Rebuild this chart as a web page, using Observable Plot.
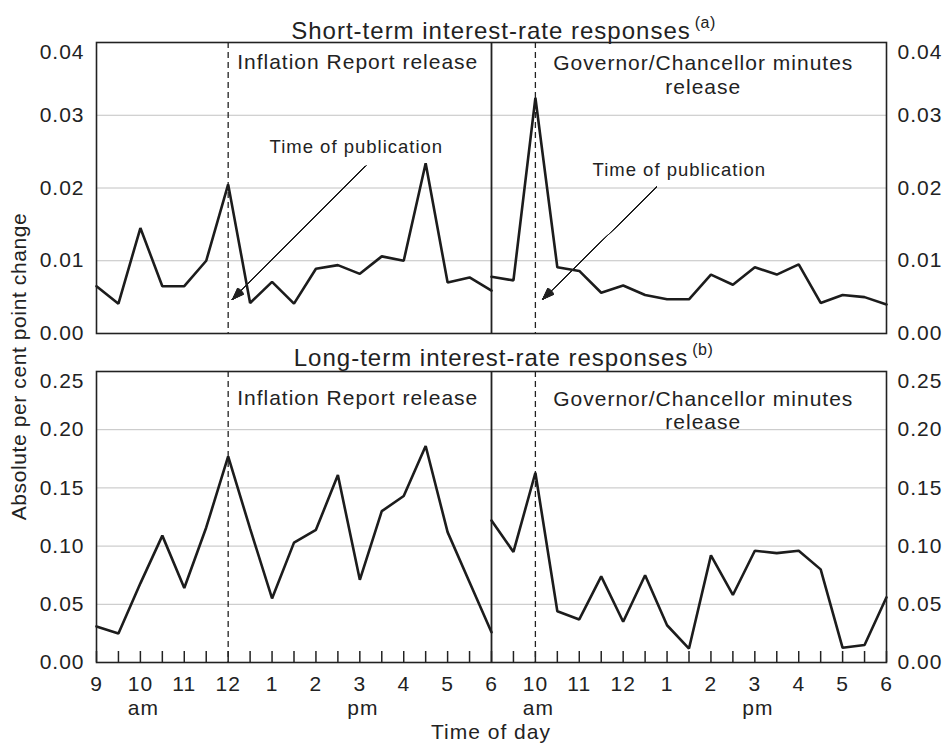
<!DOCTYPE html>
<html><head><meta charset="utf-8">
<script src="https://cdn.jsdelivr.net/npm/d3@7"></script>
<script src="https://cdn.jsdelivr.net/npm/@observablehq/plot@0.6"></script>
<style>
html,body{margin:0;padding:0;background:#fff;}
#wrap{position:relative;width:944px;height:743px;font-family:"Liberation Sans",Arial,sans-serif;color:#222;overflow:hidden;}
#wrap > svg{position:absolute;left:0;}
.title{position:absolute;left:491px;transform:translateX(-50%);font-size:24px;line-height:24px;letter-spacing:1px;white-space:nowrap;color:#222;}
.title .sup{position:absolute;left:100%;margin-left:4px;top:-4px;font-size:16px;line-height:16px;letter-spacing:0.5px;}
</style></head>
<body><div id="wrap"></div>
<script>
// ---- data ----
const slots = ["09:00","09:30","10:00","10:30","11:00","11:30","12:00","12:30","13:00","13:30","14:00","14:30","15:00","15:30","16:00","16:30","17:00","17:30","18:00"];
const shortInflationReport = [0.0065,0.0041,0.0145,0.0065,0.0065,0.0100,0.0205,0.0042,0.0071,0.0041,0.0089,0.0094,0.0082,0.0106,0.0100,0.0234,0.0070,0.0077,0.0059];
const shortMinutes = [0.0078,0.0073,0.0324,0.0091,0.0086,0.0056,0.0066,0.0053,0.0047,0.0047,0.0081,0.0067,0.0091,0.0081,0.0095,0.0042,0.0053,0.0050,0.0040];
const longInflationReport = [0.031,0.025,0.068,0.109,0.064,0.116,0.177,0.115,0.055,0.103,0.114,0.161,0.071,0.130,0.143,0.186,0.112,0.069,0.026];
const longMinutes = [0.122,0.095,0.163,0.044,0.037,0.074,0.035,0.075,0.032,0.012,0.092,0.058,0.096,0.094,0.096,0.080,0.0126,0.015,0.056];
const shortTicks = [0, 0.01, 0.02, 0.03, 0.04];
const longTicks = [0, 0.05, 0.10, 0.15, 0.20, 0.25];
const hourLabels = ["9","10","11","12","1","2","3","4","5","6"];
const ampm = [{slot:"10:00", half:0, text:"am"},{slot:"15:00", half:0, text:"pm"},{slot:"10:00", half:1, text:"am"},{slot:"15:00", half:1, text:"pm"}];
const releaseNames = ["Inflation Report release", "Governor/Chancellor minutes\nrelease"];
const publicationTimes = ["12:00", "10:00"];
const noteText = "Time of publication";
const noteAnchors = [{x: 11.84, y: 0.0256}, {x: 26.56, y: 0.02245}];
const noteArrows = [{x1: 12.26, y1: 0.0230, x2: 6.2, y2: 0.0047}, {x1: 25.52, y1: 0.0201, x2: 20.33, y2: 0.0047}];
const titles = [["Short-term interest-rate responses", "(a)"], ["Long-term interest-rate responses", "(b)"]];
const yLabel = "Absolute per cent point change";
const xLabel = "Time of day";

// ---- helpers ----
const N = slots.length - 1; // 18 half-hours per half
const fmt = d3.format(".2f");
const sx = (slot, half) => slots.indexOf(slot) + half * N;
const ink = "#222";
const allHalfHours = d3.range(0, 2 * N + 1);

function panel({left, right, ticks, height, marginTop, marginBottom, bottomAxis, labelDy, notes}) {
  const yMax = ticks[ticks.length - 1];
  const plotH = height - marginTop - marginBottom;
  const leftData = left.map((v, i) => ({x: i, y: v}));
  const rightData = right.map((v, i) => ({x: N + i, y: v}));
  const pubX = publicationTimes.map((s, h) => sx(s, h));
  const yAxisOpts = {tickSize: 0, tickFormat: fmt, fontSize: 21, label: null};
  const marks = [
    Plot.ruleY(ticks.slice(1, -1), {stroke: "#c2c2c2", strokeWidth: 1}),
    Plot.ruleX(pubX, {stroke: ink, strokeWidth: 1.3, strokeDasharray: "6,4"}),
    Plot.ruleX([N], {stroke: ink, strokeWidth: 1.8}),
    Plot.line(leftData, {x: "x", y: "y", stroke: "#1c1c1c", strokeWidth: 2.6, strokeLinejoin: "miter"}),
    Plot.line(rightData, {x: "x", y: "y", stroke: "#1c1c1c", strokeWidth: 2.6, strokeLinejoin: "miter"}),
    Plot.frame({stroke: ink, strokeWidth: 1.6}),
    Plot.axisY(ticks.slice(0, -1), {...yAxisOpts, anchor: "left", tickPadding: 12}),
    Plot.axisY(ticks.slice(0, -1), {...yAxisOpts, anchor: "right", tickPadding: 11}),
    Plot.axisY(ticks.slice(-1), {...yAxisOpts, anchor: "left", tickPadding: 12, dy: 9.5}),
    Plot.axisY(ticks.slice(-1), {...yAxisOpts, anchor: "right", tickPadding: 11, dy: 9.5}),
    Plot.text([{x: pubX[0], y: yMax, t: releaseNames[0]}], {x: "x", y: "y", text: "t", textAnchor: "start", lineAnchor: "top", dx: 9, dy: labelDy, fontSize: 21, fill: ink}),
    Plot.text([{x: 27.65, y: yMax, t: releaseNames[1]}], {x: "x", y: "y", text: "t", textAnchor: "middle", lineAnchor: "top", dy: labelDy, lineHeight: 1.1, fontSize: 21, fill: ink})
  ];
  if (bottomAxis) {
    marks.push(
      Plot.ruleX(allHalfHours, {stroke: ink, strokeWidth: 1.5, insetTop: plotH - 11}),
      Plot.axisX(d3.range(0, 2 * N + 1, 2), {anchor: "bottom", tickSize: 0, tickPadding: 14, fontSize: 21, label: null,
        tickFormat: i => hourLabels[(i <= N ? i : i - N) / 2]}),
      Plot.text(ampm, {x: d => sx(d.slot, d.half), text: "text", frameAnchor: "bottom", dy: 52, dx: 3, fontSize: 21, fill: ink})
    );
  }
  if (notes) {
    marks.push(
      Plot.text(noteAnchors, {x: "x", y: "y", text: () => noteText, fontSize: 18.5, fill: ink}),
      Plot.arrow(noteArrows, {x1: "x1", y1: "y1", x2: "x2", y2: "y2", stroke: ink, strokeWidth: 1, headLength: 0})
    );
    for (let a = 0; a <= 42; a += 3) {
      marks.push(Plot.arrow(noteArrows, {x1: "x1", y1: "y1", x2: "x2", y2: "y2", stroke: ink, strokeWidth: 1, headLength: 18, headAngle: a}));
    }
  }
  return Plot.plot({
    width: 944, height, marginLeft: 96, marginRight: 58, marginTop, marginBottom,
    style: {fontFamily: '"Liberation Sans", Arial, sans-serif', fontSize: "21px", letterSpacing: "1px", color: ink, background: "transparent"},
    x: {domain: [0, 2 * N], axis: null},
    y: {domain: [0, yMax], axis: null},
    marks
  });
}

const wrap = document.getElementById("wrap");
const top1 = panel({left: shortInflationReport, right: shortMinutes, ticks: shortTicks, height: 345, marginTop: 42, marginBottom: 12, bottomAxis: false, labelDy: 11.5, notes: true});
top1.style.top = "0px";
wrap.appendChild(top1);
const bot = panel({left: longInflationReport, right: longMinutes, ticks: longTicks, height: 398, marginTop: 26, marginBottom: 81, bottomAxis: true, labelDy: 18.4, notes: false});
bot.style.top = "345px";
wrap.appendChild(bot);

// titles (HTML with superscript)
[[titles[0], 19], [titles[1], 346]].forEach(([[main, sup], top]) => {
  const d = document.createElement("div");
  d.className = "title";
  d.style.top = top + "px";
  d.textContent = main;
  const s = document.createElement("span");
  s.className = "sup";
  s.textContent = sup;
  d.appendChild(s);
  wrap.appendChild(d);
});

// axis titles overlay
const ov = d3.create("svg").attr("width", 944).attr("height", 743)
  .style("position", "absolute").style("top", "0px").style("left", "0px").style("pointer-events", "none");
ov.append("text").attr("transform", "translate(26,366.5) rotate(-90)").attr("text-anchor", "middle")
  .attr("font-family", '"Liberation Sans", Arial, sans-serif').attr("font-size", 21).attr("letter-spacing", "0.6px")
  .attr("fill", ink).text(yLabel);
ov.append("text").attr("x", 491).attr("y", 739).attr("text-anchor", "middle")
  .attr("font-family", '"Liberation Sans", Arial, sans-serif').attr("font-size", 21).attr("letter-spacing", "1px")
  .attr("fill", ink).text(xLabel);
wrap.appendChild(ov.node());
</script>
</body></html>
